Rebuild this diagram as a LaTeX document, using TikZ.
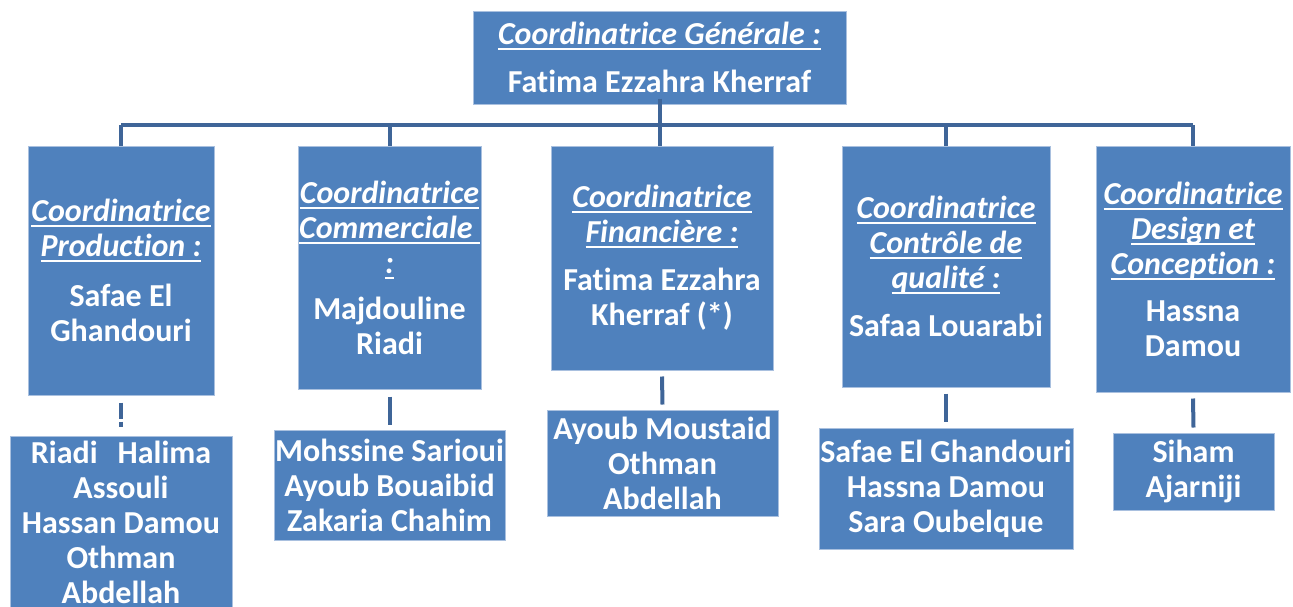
\documentclass[tikz,border=0pt]{standalone}
\usepackage{fontspec}
\setmainfont[Ligatures=NoCommon]{Carlito}

\definecolor{boxfill}{HTML}{4F81BD}
\definecolor{boxline}{HTML}{A9C0DF}
\definecolor{linkline}{HTML}{3F6598}

\tikzset{every picture/.style={line width=0.75pt}}
\tikzset{
  orgbox/.style={draw=boxline, fill=boxfill, line width=1pt, text=white, inner sep=0pt, align=center,
    font=\fontsize{32}{35}\selectfont\bfseries},
  orglink/.style={draw=linkline, line width=4pt}
}
\newsavebox{\roleheadbox}
\newcommand{\rolehead}[1]{\sbox{\roleheadbox}{\itshape #1}\rlap{\vrule height -3.5pt depth 5.5pt width\wd\roleheadbox}\usebox{\roleheadbox}}

\begin{document}
\begin{tikzpicture}[x=1pt,y=1pt,yscale=-1,xscale=1]
\useasboundingbox (0,0) rectangle (1293,606);

%Shape: Rectangle [gen]
\node (gen) [orgbox, minimum width=373, minimum height=93] at (659.5,57.5) {\rolehead{Coordinatrice Générale :}\\[13pt] Fatima Ezzahra Kherraf};

%Shape: Rectangle [level 2]
\node (prod) [orgbox, minimum width=186, minimum height=249] at (121,270.5) {\rolehead{Coordinatrice}\\ \rolehead{Production :}\\[15pt] Safae El\\ Ghandouri};
\node (comm) [orgbox, minimum width=183, minimum height=243] at (389.5,267.5) {\rolehead{Coordinatrice}\\ \rolehead{Commerciale\ }\\ \rolehead{:}\\[11pt] Majdouline\\ Riadi};
\node (fin) [orgbox, minimum width=222, minimum height=224] at (662,258) {\rolehead{Coordinatrice}\\ \rolehead{Financière :}\\[13pt] Fatima Ezzahra\\ Kherraf (*)};
\node (qual) [orgbox, minimum width=208, minimum height=241] at (946,266.5) {\rolehead{Coordinatrice}\\ \rolehead{Contrôle de}\\ \rolehead{qualité :}\\[13pt] Safaa Louarabi};
\node (design) [orgbox, minimum width=194, minimum height=246] at (1193,269) {\rolehead{Coordinatrice}\\ \rolehead{Design et}\\ \rolehead{Conception :}\\[12pt] Hassna\\ Damou};

%Shape: Rectangle [level 3]
\node (prodteam) [orgbox, minimum width=222, minimum height=172] at (121,522) {Riadi\hspace{20pt}Halima\\ Assouli\\ Hassan Damou\\ Othman\\ Abdellah};
\node (commteam) [orgbox, minimum width=231, minimum height=110] at (389.5,485) {Mohssine Sarioui\\ Ayoub Bouaibid\\ Zakaria Chahim};
\node (finteam) [orgbox, minimum width=231, minimum height=106] at (662.5,463) {Ayoub Moustaid\\ Othman\\ Abdellah};
\node (qualteam) [orgbox, minimum width=254, minimum height=121] at (946,488.5) {Safae El Ghandouri\\ Hassna Damou\\ Sara Oubelque};
\node (designteam) [orgbox, minimum width=161, minimum height=77] at (1193.5,471.5) {Siham\\ Ajarniji};

%Straight Lines [bus]
\coordinate (busL) at (121,125);
\coordinate (busR) at (1193,125);
\draw [orglink] (busL) -- (busR);
\draw [orglink] ([yshift=-6]gen.south) -- ([yshift=-6]gen.south |- fin.north);
\draw [orglink] (prod.north) -- (prod.north |- busL);
\draw [orglink] (comm.north) -- (comm.north |- busL);
\draw [orglink] (gen.south |- fin.north) -- (gen.south |- busL);
\draw [orglink] (qual.north) -- (qual.north |- busL);
\draw [orglink] (design.north) -- (design.north |- busL);

%Straight Lines [level 2 to level 3]
\draw [orglink, dash pattern=on 16pt off 3pt on 5pt off 10pt] ([yshift=7]prod.south) -- ([yshift=-6]prodteam.north);
\draw [orglink] ([yshift=7]comm.south) -- ([yshift=-5]commteam.north);
\draw [orglink] ([yshift=6]fin.south) -- ([yshift=-5]finteam.north);
\draw [orglink] ([yshift=6]qual.south) -- ([yshift=-6]qualteam.north);
\draw [orglink] ([yshift=6]design.south) -- ([yshift=-5]designteam.north);

\end{tikzpicture}
\end{document}
